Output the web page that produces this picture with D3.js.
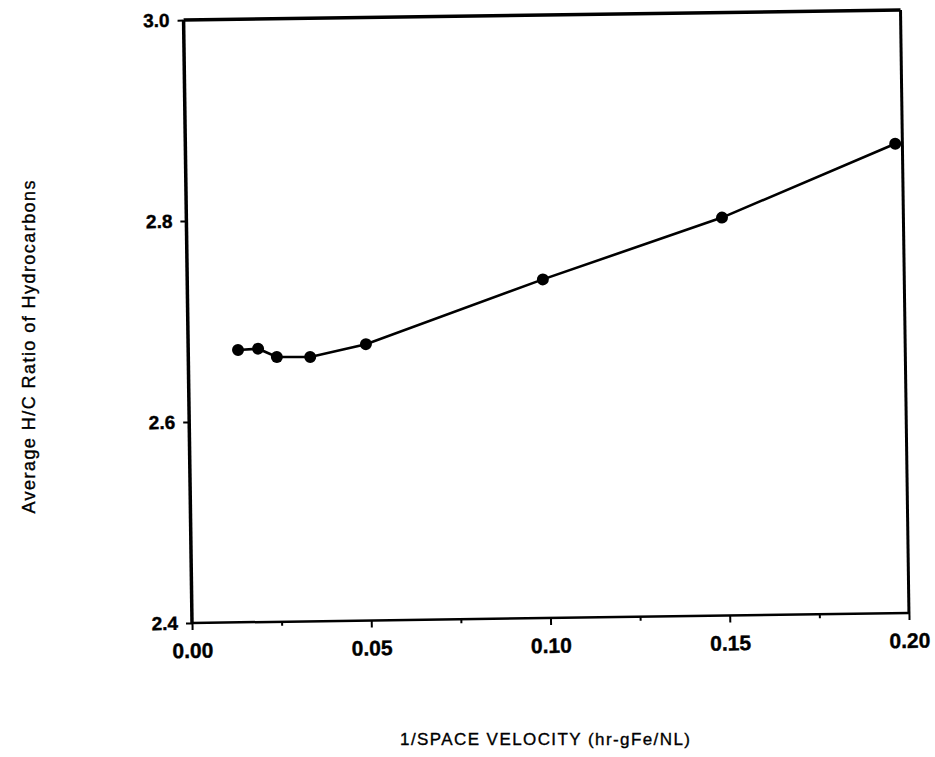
<!DOCTYPE html>
<html lang="en">
<head>
    <meta charset="UTF-8">
    <title>Average H/C Ratio vs 1/Space Velocity</title>
    <script src="https://cdn.jsdelivr.net/npm/d3@7"></script>
    <style>
        html, body {
            margin: 0;
            padding: 0;
            background: #fff;
        }
        svg text {
            font-family: "Liberation Sans", Arial, Helvetica, sans-serif;
            fill: #000;
        }
    </style>
</head>
<body>
<div id="chart"></div>
<script>
    // data
    const invSpaceVelocity = [0.0139, 0.0195, 0.0247, 0.034, 0.0496, 0.0992, 0.1494, 0.198];
    const hcRatio = [2.671, 2.672, 2.6635, 2.663, 2.675, 2.737, 2.796, 2.867];

    const xMajorTicks = [0.00, 0.05, 0.10, 0.15, 0.20];
    const xMinorTicks = [0.025, 0.075, 0.125, 0.175];
    const yTicks = [2.4, 2.6, 2.8, 3.0];

    const width = 935, height = 757;
    // plot box (before the small tilt of the scan)
    const plotLeft = 192, plotRight = 909, plotTop = 20, plotBottom = 623;

    const svg = d3.select("#chart").append("svg")
        .attr("width", width)
        .attr("height", height);

    const x = d3.scaleLinear().domain([0, 0.2]).range([plotLeft, plotRight]);
    const y = d3.scaleLinear().domain([2.4, 3.0]).range([plotBottom, plotTop]);

    // the scanned page is turned slightly, so tilt the plot with it
    const g = svg.append("g")
        .attr("transform", `rotate(-0.8, ${plotLeft}, ${plotBottom})`);

    // bottom axis, major ticks + labels
    const xAxis = g.append("g")
        .attr("transform", `translate(0,${plotBottom})`)
        .call(d3.axisBottom(x).tickValues(xMajorTicks).tickSize(7).tickPadding(13)
            .tickFormat(d3.format(".2f")));
    xAxis.select(".domain").remove();
    xAxis.selectAll("line").attr("stroke", "#000").attr("stroke-width", 2);
    xAxis.selectAll("text")
        .attr("font-size", 21)
        .attr("font-weight", "bold")
        .attr("font-family", "'Liberation Sans', Arial, sans-serif")
        .attr("stroke", "#000").attr("stroke-width", 0.4);

    // minor ticks
    const xMinor = g.append("g")
        .attr("transform", `translate(0,${plotBottom})`)
        .call(d3.axisBottom(x).tickValues(xMinorTicks).tickSize(4).tickFormat(""));
    xMinor.select(".domain").remove();
    xMinor.selectAll("line").attr("stroke", "#000").attr("stroke-width", 2);

    // left axis
    const yAxis = g.append("g")
        .attr("transform", `translate(${plotLeft},0)`)
        .call(d3.axisLeft(y).tickValues(yTicks).tickSize(6).tickPadding(8)
            .tickFormat(d3.format(".1f")));
    yAxis.select(".domain").remove();
    yAxis.selectAll("line").attr("stroke", "#000").attr("stroke-width", 2);
    yAxis.selectAll("text")
        .attr("font-size", 19)
        .attr("font-weight", "bold")
        .attr("font-family", "'Liberation Sans', Arial, sans-serif")
        .attr("stroke", "#000").attr("stroke-width", 0.4);

    // frame
    g.append("line").attr("x1", plotLeft).attr("x2", plotLeft).attr("y1", plotTop).attr("y2", plotBottom)
        .attr("stroke", "#000").attr("stroke-width", 3.5);
    g.append("line").attr("x1", plotLeft).attr("x2", plotRight).attr("y1", plotTop).attr("y2", plotTop)
        .attr("stroke", "#000").attr("stroke-width", 3.5);
    g.append("line").attr("x1", plotRight).attr("x2", plotRight).attr("y1", plotTop).attr("y2", plotBottom)
        .attr("stroke", "#000").attr("stroke-width", 3);
    g.append("line").attr("x1", plotLeft).attr("x2", plotRight).attr("y1", plotBottom).attr("y2", plotBottom)
        .attr("stroke", "#000").attr("stroke-width", 2.5);

    // data line + markers
    const points = invSpaceVelocity.map((v, i) => [v, hcRatio[i]]);

    const line = d3.line()
        .x(d => x(d[0]))
        .y(d => y(d[1]));

    g.append("path")
        .datum(points)
        .attr("fill", "none")
        .attr("stroke", "#000")
        .attr("stroke-width", 2.6)
        .attr("d", line);

    g.selectAll("circle.pt")
        .data(points)
        .enter()
        .append("circle")
        .attr("class", "pt")
        .attr("cx", d => x(d[0]))
        .attr("cy", d => y(d[1]))
        .attr("r", 6)
        .attr("fill", "#000");

    // axis titles
    svg.append("text")
        .attr("transform", "translate(35,347) rotate(-90)")
        .attr("text-anchor", "middle")
        .style("font-size", "18px")
        .attr("stroke", "#000").attr("stroke-width", 0.35)
        .attr("textLength", 333)
        .attr("lengthAdjust", "spacing")
        .text("Average H/C Ratio of Hydrocarbons");

    svg.append("text")
        .attr("x", 545)
        .attr("y", 745)
        .attr("text-anchor", "middle")
        .style("font-size", "17px")
        .attr("stroke", "#000").attr("stroke-width", 0.35)
        .attr("textLength", 290)
        .attr("lengthAdjust", "spacing")
        .text("1/SPACE VELOCITY (hr-gFe/NL)");
</script>
</body>
</html>
